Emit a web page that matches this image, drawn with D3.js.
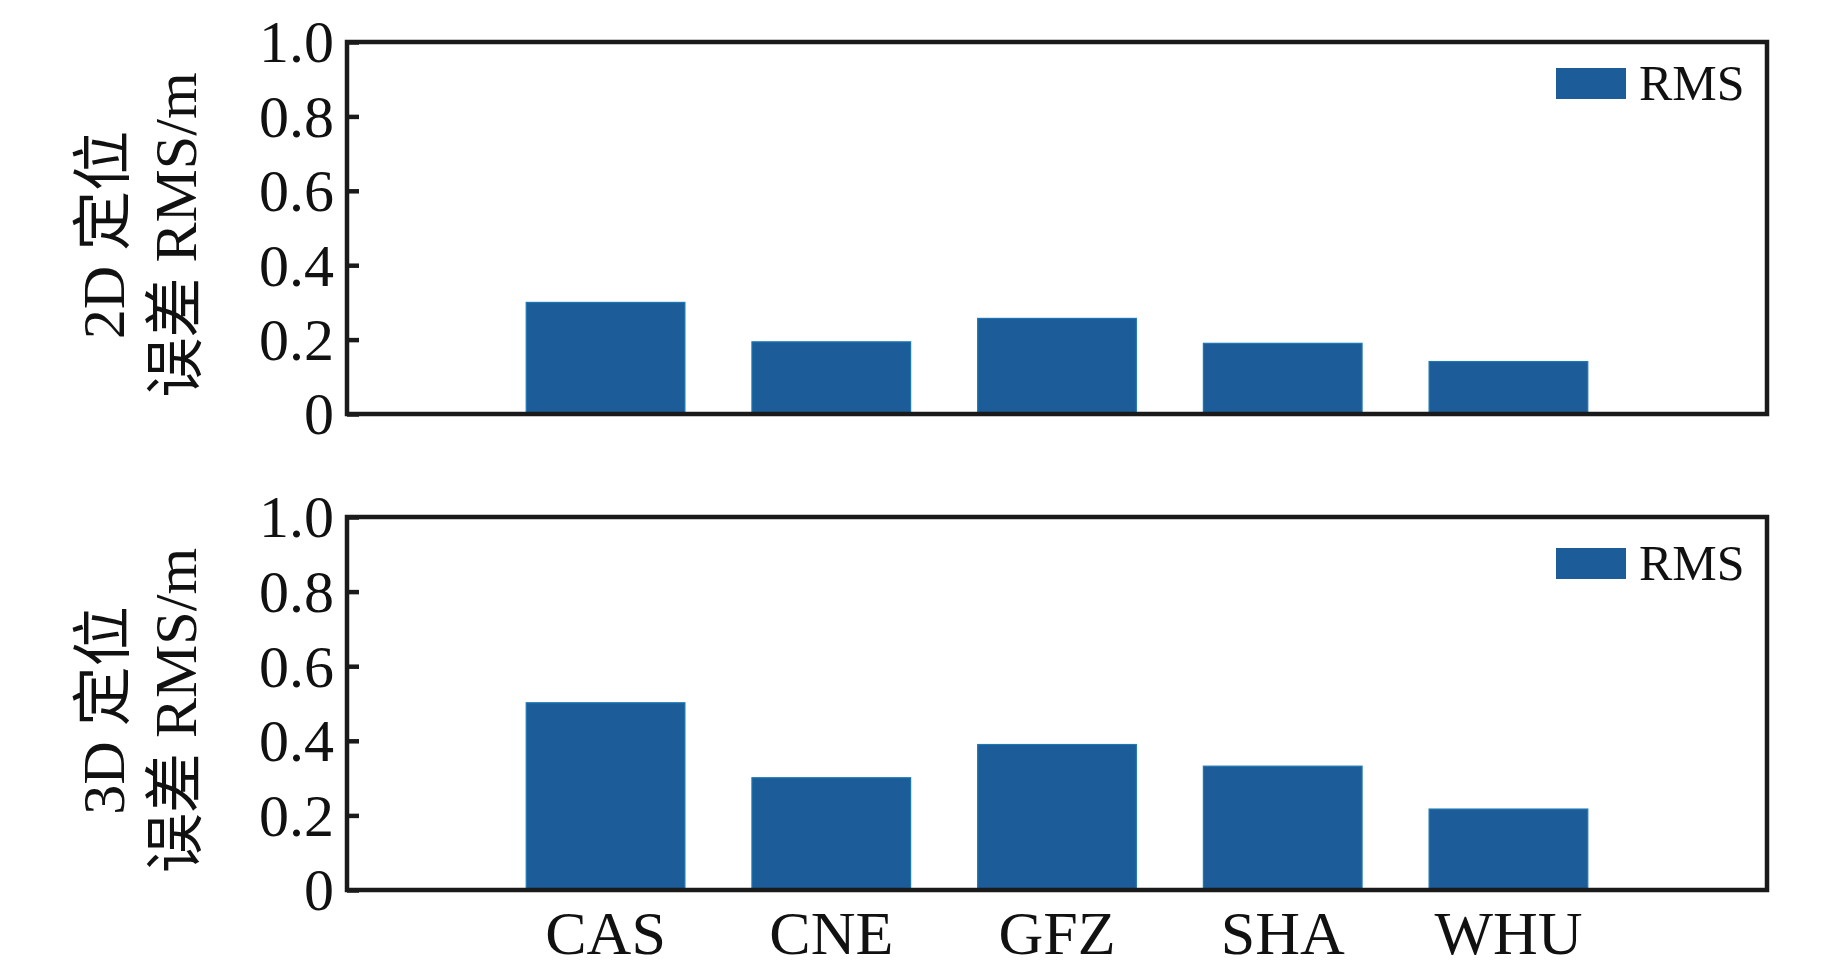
<!DOCTYPE html>
<html>
<head>
<meta charset="utf-8">
<script src="https://cdn.jsdelivr.net/npm/d3@7"></script>
<style>
  html, body { margin: 0; padding: 0; background: #fff; }
  svg { display: block; }
  text { font-family: "Liberation Serif", "Times New Roman", "Noto Sans CJK SC", serif; fill: #111; }
</style>
</head>
<body>
<svg id="chart" width="1843" height="969"></svg>
<script>
// ---- data ----
const categories = ["CAS", "CNE", "GFZ", "SHA", "WHU"];
const rms2D = [0.30, 0.194, 0.257, 0.19, 0.141];
const rms3D = [0.502, 0.301, 0.39, 0.332, 0.217];
const yTickValues = [0, 0.2, 0.4, 0.6, 0.8, 1.0];
const yTickLabels = ["0", "0.2", "0.4", "0.6", "0.8", "1.0"];
const yLabels2D = ["2D 定位", "误差 RMS/m"];
const yLabels3D = ["3D 定位", "误差 RMS/m"];
const legendLabel = "RMS";

// ---- layout ----
const W = 1843, H = 969;
const plotL = 347, plotR = 1767;
const panels = [
  { top: 42, bottom: 414, values: rms2D, ylab: yLabels2D, xLabels: false, legY: 68 },
  { top: 517, bottom: 890, values: rms3D, ylab: yLabels3D, xLabels: true, legY: 548 }
];
const barColor = "#1b5c99";
const frameColor = "#1a1a1a";

const svg = d3.select("#chart");
svg.append("rect").attr("width", W).attr("height", H).attr("fill", "#fff");

const x = d3.scaleBand()
  .domain(categories)
  .range([plotL, plotR])
  .paddingInner(0.297)
  .paddingOuter(0.794);

panels.forEach(p => {
  const y = d3.scaleLinear().domain([0, 1]).range([p.bottom, p.top]);
  const g = svg.append("g");

  // bars
  g.selectAll("rect.bar")
    .data(p.values.map((v, i) => ({ c: categories[i], v })))
    .join("rect")
    .attr("class", "bar")
    .attr("x", d => x(d.c))
    .attr("width", x.bandwidth())
    .attr("y", d => y(d.v))
    .attr("height", d => y(0) - y(d.v))
    .attr("fill", barColor)
    .attr("stroke", "#1d78b4")
    .attr("stroke-width", 1.2);

  // y axis (inward ticks)
  const yAxis = d3.axisLeft(y)
    .tickValues(yTickValues)
    .tickFormat((d, i) => yTickLabels[i])
    .tickSizeInner(-12)
    .tickSizeOuter(0)
    .tickPadding(13);
  const ya = g.append("g").attr("transform", `translate(${plotL},0)`).call(yAxis);
  ya.select(".domain").remove();
  ya.selectAll(".tick line").attr("stroke", frameColor).attr("stroke-width", 4.5);
  ya.selectAll(".tick text")
    .style("font-family", '"Liberation Serif", "Times New Roman", serif')
    .style("font-size", "60px")
    .attr("fill", "#111")
    .attr("dy", "0.33em");

  // x axis labels (bottom panel only)
  if (p.xLabels) {
    const xAxis = d3.axisBottom(x).tickSize(0).tickPadding(20);
    const xa = g.append("g").attr("transform", `translate(0,${p.bottom})`).call(xAxis);
    xa.select(".domain").remove();
    xa.selectAll(".tick text")
      .style("font-family", '"Liberation Serif", "Times New Roman", serif')
      .style("font-size", "62px")
      .attr("fill", "#111");
  }

  // frame
  g.append("rect")
    .attr("x", plotL).attr("y", p.top)
    .attr("width", plotR - plotL).attr("height", p.bottom - p.top)
    .attr("fill", "none")
    .attr("stroke", frameColor)
    .attr("stroke-width", 4.5);

  // legend
  g.append("rect")
    .attr("x", 1556).attr("y", p.legY)
    .attr("width", 70).attr("height", 31)
    .attr("fill", barColor);
  g.append("text")
    .attr("x", 1639).attr("y", p.legY + 32)
    .style("font-size", "50px")
    .text(legendLabel);

  // y label (two rotated lines)
  const cy = (p.top + p.bottom) / 2 + 7;
  const baselines = [124, 196];
  p.ylab.forEach((t, i) => {
    g.append("text")
      .attr("transform", `translate(${baselines[i]},${cy}) rotate(-90)`)
      .attr("text-anchor", "middle")
      .style("font-size", "60px")
      .text(t);
  });
});
</script>
</body>
</html>
